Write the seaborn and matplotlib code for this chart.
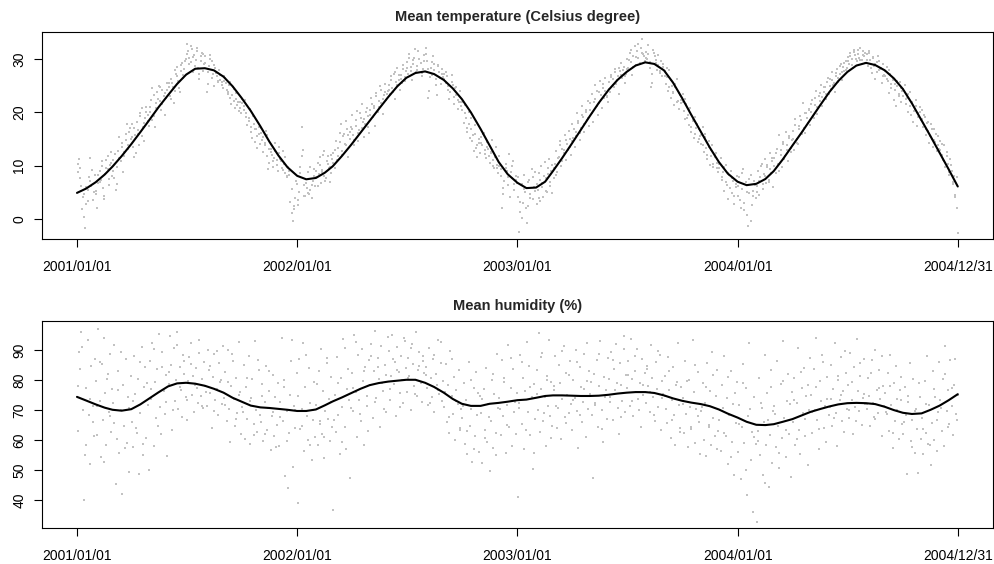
import datetime as dt
import calendar
import numpy as np
import pandas as pd
import matplotlib
matplotlib.use("Agg")
import matplotlib.pyplot as plt
import seaborn as sns

# ---------------- data ----------------
# observations, one row per month (readings spread evenly over the month)
temp_2001 = [
    [8.8, 11.2, 9.5, 6.1, 4.2, 0.4, -1.7, 2.8, 5.5, 7.9, 11.4, 6.2, 3.5, 5.1, 8.3],
    [4.6, 2.1, 6.8, 9.0, 7.4, 10.8, 5.9, 3.8, 8.5, 11.1, 9.3, 6.4, 10.2, 12.5, 8.1],
    [11.0, 7.6, 5.4, 9.8, 12.7, 15.3, 10.9, 13.6, 8.9, 11.8, 14.9, 17.8, 13.2, 16.4, 15.1],
    [17.9, 13.5, 11.6, 15.8, 18.2, 16.7, 13.9, 19.4, 20.8, 17.2, 14.6, 18.9, 21.0, 19.6, 17.5],
    [20.1, 22.4, 24.6, 19.3, 17.2, 21.8, 23.9, 25.0, 22.1, 20.5, 24.3, 23.1, 19.6, 22.8, 25.6],
    [24.8, 23.0, 26.2, 25.5, 21.7, 24.1, 27.3, 28.6, 25.9, 23.8, 27.7, 29.2, 26.4, 28.1, 30.0],
    [32.8, 31.5, 30.2, 29.4, 31.9, 27.6, 30.8, 29.9, 32.1, 28.4, 26.2, 30.6, 31.2, 27.8, 29.1],
    [30.5, 23.8, 25.4, 28.7, 30.1, 29.6, 27.2, 24.9, 28.3, 26.8, 25.7, 27.9, 26.1, 25.2, 24.6],
    [25.9, 26.4, 24.3, 23.5, 25.1, 22.7, 21.6, 24.8, 22.2, 20.9, 23.6, 21.4, 20.3, 22.0, 19.8],
    [21.8, 20.5, 22.3, 19.1, 17.6, 18.4, 20.7, 16.3, 15.2, 17.9, 14.5, 16.8, 13.4, 15.9, 14.1],
    [16.2, 14.8, 12.6, 13.9, 16.5, 11.8, 9.4, 10.6, 13.2, 12.0, 9.8, 11.5, 14.3, 10.2, 9.1],
    [13.6, 11.2, 9.5, 12.8, 10.4, 8.6, 7.9, 9.8, 8.3, 3.2, 1.1, -0.3, 2.4, 4.0, 6.5],
]
temp_2002 = [
    [3.6, 5.1, 9.7, 17.2, 13.0, 6.3, 4.4, 5.8, 8.9, 4.7, 5.5, 3.9, 7.2, 9.4, 6.1],
    [7.8, 10.5, 8.4, 11.6, 6.7, 9.2, 12.1, 8.0, 7.1, 10.8, 11.9, 9.5, 6.9, 8.6, 11.2],
    [12.3, 9.6, 14.7, 11.1, 13.4, 16.2, 17.9, 12.8, 15.5, 14.0, 18.4, 16.9, 11.7, 15.0, 17.2],
    [19.6, 15.8, 13.9, 17.4, 20.3, 14.6, 16.7, 19.0, 21.5, 18.2, 15.3, 17.8, 20.9, 19.4, 16.1],
    [20.4, 22.7, 19.1, 21.3, 17.5, 23.6, 20.0, 22.1, 24.9, 21.8, 19.7, 23.2, 25.4, 22.4, 24.0],
    [25.1, 23.4, 26.8, 24.5, 27.3, 22.6, 25.8, 28.4, 26.0, 24.2, 27.1, 25.5, 28.9, 26.6, 27.8],
    [29.4, 27.2, 31.0, 28.5, 26.1, 29.9, 30.3, 27.6, 28.8, 31.6, 30.1, 29.2, 26.8, 28.1, 30.7],
    [32.1, 29.6, 22.8, 24.1, 28.4, 27.0, 30.5, 29.1, 26.3, 23.2, 28.7, 27.5, 25.4, 28.2, 26.7],
    [27.3, 25.6, 26.9, 24.2, 22.5, 23.8, 27.0, 25.1, 21.6, 24.5, 23.3, 20.7, 22.0, 24.0, 21.2],
    [20.5, 18.1, 21.4, 19.0, 16.4, 17.8, 15.2, 18.9, 14.6, 12.8, 15.9, 13.4, 11.6, 14.2, 12.3],
    [15.4, 13.8, 16.2, 12.9, 11.4, 14.5, 13.1, 10.6, 12.4, 14.9, 11.0, 9.5, 13.6, 10.2, 8.7],
    [11.8, 9.3, 2.0, 4.6, 7.2, 10.4, 9.1, 6.3, 12.2, 8.8, 7.6, 10.9, 5.4, 8.1, 6.8],
]
temp_2003 = [
    [4.1, -2.4, 1.3, 6.6, 3.0, 8.2, 5.1, -0.8, 2.5, 7.4, 4.6, 9.3, 3.7, 6.0, 8.8],
    [2.9, 5.5, 8.6, 3.4, 9.9, 6.8, 4.2, 10.7, 7.7, 5.0, 8.4, 11.3, 6.1, 9.0, 4.8],
    [7.6, 10.4, 12.8, 8.9, 11.7, 14.6, 10.0, 13.2, 12.3, 15.7, 11.1, 14.0, 16.6, 13.5, 12.0],
    [17.8, 15.2, 13.6, 16.4, 19.9, 18.3, 14.8, 17.1, 21.3, 19.2, 16.3, 20.4, 18.6, 22.1, 17.4],
    [20.5, 23.4, 18.2, 22.0, 25.1, 21.3, 19.6, 23.8, 25.9, 20.8, 24.5, 22.7, 26.4, 23.1, 21.9],
    [25.8, 23.9, 27.0, 26.2, 24.7, 28.1, 25.3, 26.9, 23.4, 27.7, 29.3, 26.4, 28.6, 25.6, 27.3],
    [30.1, 28.4, 31.2, 29.5, 27.0, 30.6, 32.4, 28.9, 31.5, 30.2, 29.0, 32.0, 33.8, 30.9, 29.7],
    [31.4, 30.0, 32.6, 28.3, 24.8, 25.6, 31.8, 30.5, 29.2, 28.0, 30.8, 27.4, 29.6, 26.9, 28.5],
    [27.8, 25.4, 26.6, 24.1, 28.0, 22.7, 25.0, 23.6, 21.4, 24.7, 26.2, 22.1, 20.6, 23.3, 21.8],
    [23.4, 20.2, 18.8, 21.6, 19.5, 17.6, 20.9, 16.4, 18.3, 15.2, 19.1, 17.0, 14.5, 16.8, 15.6],
    [14.1, 17.2, 12.6, 15.3, 13.4, 11.2, 14.7, 10.1, 12.9, 13.8, 9.8, 11.6, 12.4, 10.6, 8.9],
    [9.6, 11.4, 7.9, 8.8, 5.2, 10.1, 6.4, 3.7, 8.3, 9.1, 4.9, 7.2, 2.8, 6.0, 8.1],
]
temp_2004 = [
    [4.3, 7.8, 2.1, 5.6, 9.4, 3.0, 6.9, 0.8, -1.4, 4.8, 8.2, 2.6, 5.3, 7.1, 3.9],
    [6.2, 9.0, 4.5, 7.8, 10.3, 5.6, 8.4, 11.2, 6.8, 9.7, 7.3, 12.4, 8.6, 10.8, 6.0],
    [11.5, 8.6, 13.2, 10.4, 15.8, 12.0, 9.7, 14.1, 11.3, 16.4, 13.0, 10.9, 15.2, 12.6, 14.8],
    [16.5, 12.9, 18.7, 15.1, 14.0, 17.4, 19.3, 15.9, 21.8, 17.0, 16.2, 19.8, 18.1, 20.4, 17.6],
    [20.0, 22.3, 18.9, 21.4, 24.1, 19.7, 23.0, 22.1, 25.2, 21.2, 23.8, 24.8, 22.6, 25.8, 23.4],
    [26.3, 24.4, 27.5, 25.2, 23.9, 26.8, 28.1, 25.7, 27.2, 29.0, 26.0, 28.6, 27.8, 29.6, 28.3],
    [30.4, 29.1, 31.2, 30.0, 28.4, 31.7, 30.8, 29.6, 31.0, 30.3, 32.0, 29.8, 31.5, 30.6, 29.3],
    [30.9, 28.7, 31.2, 29.9, 27.4, 30.2, 28.8, 26.3, 29.5, 30.6, 27.9, 28.2, 25.6, 29.0, 27.1],
    [26.8, 28.5, 25.9, 23.7, 27.2, 24.6, 26.0, 22.4, 25.3, 21.3, 24.9, 23.1, 25.7, 22.0, 24.0],
    [23.0, 25.1, 21.5, 22.7, 20.1, 23.9, 19.6, 21.8, 18.2, 20.7, 22.3, 17.5, 19.9, 21.0, 18.6],
    [20.4, 17.3, 19.1, 15.7, 18.0, 16.6, 14.2, 17.8, 15.0, 13.6, 16.9, 14.4, 12.8, 15.6, 13.1],
    [14.6, 12.1, 11.0, 13.8, 9.7, 12.6, 10.4, 8.2, 11.3, 9.0, 6.5, 8.0, 4.1, 2.0, -2.6],
]
# second set of temperature readings (interleaved within each month)
temp2_2001 = [
    [10.4, 7.6, 1.9, 4.6, 6.0, 3.3, 7.1, 9.2, 5.0],
    [5.2, 8.3, 7.0, 10.0, 4.4, 9.6, 11.8, 7.5, 10.6],
    [9.1, 12.2, 6.5, 11.4, 14.2, 12.5, 15.9, 13.8, 17.0],
    [15.4, 17.1, 12.4, 16.0, 19.8, 15.6, 18.0, 20.1, 18.4],
    [21.0, 18.5, 23.3, 20.9, 22.6, 24.7, 21.5, 23.7, 24.2],
    [25.6, 22.5, 24.7, 27.9, 26.9, 24.5, 28.9, 27.0, 29.6],
    [31.0, 29.0, 32.4, 30.4, 28.8, 31.6, 27.3, 29.7, 30.9],
    [29.2, 27.6, 30.8, 26.4, 28.9, 27.4, 25.9, 27.1, 25.8],
    [26.9, 25.5, 23.9, 25.7, 23.2, 24.4, 22.5, 21.9, 20.8],
    [22.6, 21.2, 19.8, 18.9, 17.2, 19.3, 16.9, 15.6, 17.3],
    [17.0, 15.4, 14.2, 15.8, 13.1, 12.5, 10.9, 12.8, 11.1],
    [12.3, 10.8, 9.2, 11.6, 8.0, 9.1, 5.6, 1.9, 7.2],
]
temp2_2002 = [
    [2.6, 8.6, 11.9, 4.3, 6.7, 4.9, 9.8, 6.4, 8.0],
    [9.1, 6.2, 10.1, 8.9, 12.8, 7.6, 10.3, 9.8, 12.0],
    [10.6, 13.0, 11.9, 14.4, 12.1, 16.0, 13.9, 15.8, 16.3],
    [16.8, 14.9, 18.6, 16.2, 19.8, 17.0, 18.7, 20.0, 17.3],
    [19.6, 21.6, 20.8, 23.0, 21.1, 24.3, 22.6, 23.9, 23.5],
    [24.2, 26.1, 23.8, 27.6, 25.2, 27.0, 26.3, 28.1, 25.9],
    [28.3, 30.2, 27.8, 29.1, 31.9, 28.0, 30.0, 27.4, 29.6],
    [30.9, 28.1, 26.6, 29.4, 27.9, 25.1, 28.9, 26.4, 27.3],
    [26.2, 27.6, 25.0, 23.9, 25.7, 22.9, 24.7, 22.4, 21.9],
    [21.9, 19.9, 17.1, 20.0, 16.9, 15.7, 17.6, 13.9, 15.0],
    [14.3, 16.0, 12.2, 13.5, 11.8, 12.6, 9.9, 11.7, 9.6],
    [10.0, 8.1, 5.9, 9.6, 7.8, 4.1, 9.9, 6.6, 7.4],
]
temp2_2003 = [
    [7.9, 3.2, 0.2, 5.6, 2.0, 6.9, 4.0, 7.8, 5.3],
    [6.5, 3.9, 7.4, 6.0, 8.0, 5.3, 9.5, 7.0, 10.1],
    [9.6, 8.2, 11.5, 13.9, 10.8, 12.9, 14.8, 13.0, 15.0],
    [14.6, 16.9, 15.6, 18.0, 16.1, 19.5, 17.9, 20.0, 19.0],
    [21.8, 19.9, 22.6, 24.0, 21.7, 23.3, 25.3, 24.0, 22.9],
    [24.4, 26.6, 25.1, 27.5, 26.0, 28.4, 27.0, 28.0, 26.8],
    [28.2, 29.8, 31.8, 28.6, 30.4, 32.8, 29.3, 31.1, 30.5],
    [30.3, 31.0, 29.4, 27.3, 31.2, 29.9, 28.9, 27.7, 29.0],
    [26.9, 28.4, 24.8, 26.0, 23.9, 25.3, 21.9, 23.7, 22.4],
    [21.9, 22.5, 19.0, 20.4, 17.3, 18.6, 16.0, 17.8, 15.1],
    [15.8, 13.9, 16.0, 12.0, 13.6, 11.9, 10.4, 12.1, 9.5],
    [10.3, 7.4, 9.8, 6.9, 8.6, 5.8, 7.7, 4.4, 6.6],
]
temp2_2004 = [
    [6.1, 3.5, 8.6, 1.6, 5.0, 7.5, -0.4, 4.4, 6.4],
    [5.1, 7.2, 9.9, 6.6, 8.0, 10.1, 7.0, 9.3, 11.5],
    [10.0, 12.3, 9.1, 12.9, 14.5, 11.9, 13.8, 15.5, 13.4],
    [15.0, 17.7, 14.3, 16.9, 18.6, 16.5, 19.9, 18.9, 20.6],
    [21.5, 19.4, 22.8, 21.0, 23.6, 22.9, 24.7, 23.5, 26.4],
    [24.9, 26.0, 25.5, 27.4, 26.5, 28.8, 27.5, 29.2, 28.0],
    [29.6, 30.6, 28.9, 31.4, 30.1, 31.8, 29.9, 30.8, 31.1],
    [29.8, 31.6, 28.3, 30.4, 29.1, 27.6, 29.7, 28.4, 26.8],
    [27.7, 26.3, 28.0, 25.4, 26.5, 24.2, 25.9, 23.5, 24.6],
    [24.4, 22.6, 23.5, 21.2, 22.0, 20.3, 21.3, 19.2, 20.0],
    [18.7, 19.6, 16.9, 18.2, 15.5, 16.9, 14.8, 15.9, 13.9],
    [13.0, 14.0, 10.9, 11.9, 8.9, 10.2, 7.0, 4.5, 7.8],
]

hum_2001 = [
    [63.0, 89.5, 83.7, 96.2, 70.1, 40.0, 55.2, 77.4, 93.6, 68.3, 52.1, 84.9, 71.6, 61.4, 87.0],
    [79.8, 61.9, 97.0, 73.1, 54.3, 85.6, 66.8, 94.1, 75.9, 58.6, 82.2, 69.4, 88.7, 62.7, 77.0],
    [72.5, 91.8, 45.3, 60.4, 83.1, 55.7, 70.0, 42.1, 78.6, 64.9, 87.2, 59.2, 74.4, 49.6, 81.5],
    [66.1, 57.9, 88.0, 75.3, 62.4, 80.6, 48.9, 69.2, 91.1, 55.0, 77.8, 84.3, 60.7, 71.9, 50.2],
    [86.5, 73.7, 92.4, 58.1, 79.3, 67.5, 83.9, 95.5, 71.0, 62.2, 89.6, 76.4, 68.7, 81.8, 54.8],
    [78.9, 94.7, 85.2, 63.6, 90.9, 73.0, 80.1, 96.0, 70.4, 84.6, 76.9, 67.8, 88.3, 82.0, 74.6],
    [66.9, 79.7, 87.8, 92.6, 75.1, 81.3, 69.5, 84.0, 77.6, 72.3, 89.1, 74.8, 80.5, 70.8, 86.2],
    [78.2, 71.4, 90.2, 83.4, 75.7, 64.2, 81.0, 88.9, 73.4, 77.1, 68.6, 85.8, 79.4, 72.0, 91.3],
    [74.1, 82.7, 66.3, 90.0, 70.6, 59.5, 78.0, 86.4, 73.8, 64.7, 80.9, 69.0, 92.8, 76.2, 62.1],
    [71.2, 85.1, 60.3, 77.7, 67.0, 88.2, 58.8, 74.0, 80.4, 65.6, 93.0, 70.2, 62.8, 83.6, 68.4],
    [66.0, 78.8, 59.7, 72.7, 84.8, 63.3, 70.9, 76.5, 56.9, 68.1, 81.7, 61.5, 74.3, 65.2, 79.1],
    [58.0, 72.8, 94.2, 66.5, 80.0, 48.1, 69.7, 44.2, 62.5, 75.2, 93.3, 51.1, 71.3, 64.0, 82.4],
]
hum_2002 = [
    [39.2, 87.1, 63.8, 70.5, 92.5, 56.4, 77.9, 68.2, 60.1, 84.0, 72.4, 53.6, 66.9, 79.5, 61.0],
    [71.8, 58.3, 83.2, 65.4, 90.6, 62.0, 76.3, 54.1, 69.9, 85.7, 67.2, 73.9, 59.8, 81.1, 64.6],
    [36.9, 75.0, 62.9, 87.9, 68.6, 55.5, 80.8, 71.1, 93.9, 64.3, 57.2, 77.2, 83.8, 47.4, 70.7],
    [82.5, 69.8, 95.1, 76.1, 61.2, 88.5, 73.6, 66.3, 90.3, 79.9, 58.5, 84.4, 71.4, 63.1, 86.7],
    [78.4, 92.0, 67.6, 83.0, 96.4, 74.2, 87.4, 80.3, 64.5, 91.5, 76.6, 70.3, 85.0, 81.9, 94.3],
    [89.8, 73.3, 81.4, 95.0, 78.7, 86.0, 68.0, 91.0, 82.8, 75.8, 88.1, 80.2, 72.6, 93.2, 84.2],
    [76.0, 87.6, 81.6, 70.0, 92.2, 85.3, 78.1, 96.1, 74.7, 83.5, 89.4, 79.0, 72.8, 86.6, 82.3],
    [84.6, 77.3, 71.7, 90.7, 80.7, 74.5, 87.0, 69.3, 82.1, 78.3, 93.6, 75.6, 85.9, 73.2, 79.8],
    [71.0, 85.5, 66.2, 78.5, 62.6, 89.9, 74.9, 68.9, 81.2, 60.0, 76.8, 72.1, 83.3, 64.1, 70.6],
    [67.4, 79.2, 58.9, 73.5, 55.6, 86.1, 64.8, 70.4, 52.9, 77.5, 61.6, 82.9, 68.5, 56.1, 74.7],
    [69.1, 52.6, 77.0, 63.5, 84.1, 59.4, 72.2, 49.8, 66.6, 80.2, 57.5, 75.4, 62.3, 88.8, 70.9],
    [74.0, 61.8, 86.9, 68.0, 79.6, 55.8, 71.7, 91.7, 64.4, 77.3, 58.2, 83.7, 69.6, 62.0, 75.8],
]
hum_2003 = [
    [41.0, 72.6, 88.4, 65.3, 80.9, 57.0, 76.4, 92.9, 69.5, 84.7, 61.7, 74.3, 50.4, 78.8, 67.1],
    [83.6, 70.1, 95.7, 62.8, 77.1, 89.0, 66.4, 74.5, 58.0, 81.4, 71.5, 93.4, 68.2, 79.3, 64.9],
    [76.7, 88.2, 71.3, 64.0, 85.2, 79.1, 60.5, 73.9, 91.4, 67.7, 82.6, 75.0, 69.0, 86.3, 72.0],
    [63.4, 80.0, 74.2, 90.1, 69.7, 57.6, 84.5, 77.8, 66.1, 72.9, 88.7, 61.1, 79.9, 70.3, 83.1],
    [75.5, 68.4, 47.3, 82.0, 71.8, 86.8, 64.6, 78.2, 93.1, 70.0, 59.3, 81.0, 74.4, 67.0, 87.5],
    [80.3, 72.7, 89.3, 66.7, 83.9, 76.9, 92.1, 70.8, 62.1, 85.8, 78.5, 73.1, 94.9, 69.3, 81.7],
    [77.4, 86.4, 71.6, 93.8, 80.6, 68.1, 83.0, 76.2, 90.5, 73.8, 79.0, 64.3, 87.1, 75.1, 82.5],
    [72.3, 84.9, 78.0, 69.6, 91.9, 80.8, 74.6, 66.4, 86.0, 77.2, 71.1, 88.6, 63.5, 79.7, 75.3],
    [81.3, 70.5, 65.9, 87.7, 76.7, 60.8, 73.3, 84.4, 68.3, 58.4, 79.4, 92.3, 71.9, 64.2, 77.9],
    [74.1, 62.4, 86.5, 68.8, 57.8, 80.1, 71.0, 63.9, 93.5, 76.1, 59.1, 70.6, 82.8, 66.0, 55.3],
    [69.8, 79.0, 60.2, 72.5, 54.7, 85.9, 65.1, 76.3, 58.6, 89.6, 67.3, 61.4, 74.9, 83.4, 63.2],
    [66.7, 56.3, 78.6, 70.7, 88.0, 61.3, 74.1, 52.0, 68.6, 83.2, 59.6, 72.0, 48.5, 65.8, 79.4],
]
hum_2004 = [
    [56.2, 71.9, 47.0, 64.5, 85.6, 59.0, 77.3, 41.8, 68.1, 92.6, 53.4, 62.9, 36.2, 74.6, 58.8],
    [32.9, 63.2, 80.8, 55.1, 70.8, 48.3, 66.0, 88.6, 58.6, 75.7, 44.5, 61.9, 83.5, 52.6, 69.7],
    [71.4, 57.7, 86.3, 64.7, 50.8, 78.9, 60.9, 93.0, 67.6, 54.4, 73.0, 82.1, 62.0, 47.9, 76.0],
    [66.2, 80.7, 58.3, 72.4, 90.8, 63.6, 55.3, 77.6, 69.1, 84.2, 61.3, 74.8, 51.7, 70.0, 87.3],
    [75.2, 62.6, 83.7, 70.1, 94.2, 66.8, 57.1, 79.8, 73.0, 88.4, 64.2, 71.5, 59.5, 81.2, 68.5],
    [71.1, 85.0, 64.8, 77.0, 92.5, 69.0, 58.1, 80.0, 73.6, 87.8, 66.4, 76.6, 62.7, 82.6, 70.3],
    [78.6, 67.3, 89.2, 73.3, 62.2, 84.6, 71.2, 93.7, 76.4, 69.7, 81.5, 65.0, 74.0, 87.0, 72.2],
    [70.5, 80.9, 74.7, 64.9, 86.9, 72.6, 67.9, 90.0, 76.8, 69.2, 83.3, 73.7, 61.5, 78.1, 71.6],
    [75.9, 68.7, 82.3, 63.0, 88.3, 71.8, 57.4, 79.2, 66.5, 84.9, 70.0, 60.6, 76.7, 73.4, 65.4],
    [62.1, 77.7, 68.3, 48.7, 72.9, 85.8, 59.8, 66.9, 80.3, 55.9, 70.6, 63.7, 49.0, 74.3, 60.4],
    [67.6, 55.5, 79.8, 62.6, 88.0, 58.8, 71.7, 51.9, 65.9, 83.0, 60.0, 74.4, 56.6, 69.4, 86.0],
    [73.6, 63.0, 80.5, 58.0, 91.6, 69.8, 76.9, 65.5, 86.8, 71.3, 61.8, 78.4, 87.0, 66.7, 75.1],
]
# second set of humidity readings
hum2_2001 = [
    [78.0, 91.2, 58.5, 73.9, 66.0], [71.5, 86.0, 52.8, 80.6, 68.0],
    [65.8, 76.9, 89.4, 57.3, 70.9], [73.2, 64.0, 86.1, 58.9, 79.0],
    [77.0, 90.5, 64.9, 84.4, 72.8], [82.9, 70.2, 91.9, 77.7, 86.6],
    [73.5, 85.5, 78.4, 93.5, 71.6], [76.0, 84.7, 69.9, 89.8, 80.1],
    [71.7, 79.5, 88.8, 67.2, 75.0], [69.5, 80.8, 73.1, 61.9, 86.9],
    [74.8, 62.0, 83.0, 69.3, 57.8], [67.9, 77.8, 59.9, 86.4, 70.0],
]
hum2_2002 = [
    [74.9, 64.7, 88.3, 58.4, 70.0], [78.8, 66.3, 61.2, 87.3, 72.7],
    [66.8, 79.0, 59.6, 90.8, 73.4], [77.5, 92.8, 68.7, 83.1, 74.8],
    [88.1, 72.9, 84.4, 79.1, 69.5], [77.2, 87.2, 83.6, 71.0, 94.1],
    [80.9, 90.8, 75.4, 84.9, 88.2], [81.8, 72.4, 88.4, 76.7, 92.9],
    [76.1, 67.9, 87.1, 73.0, 63.3], [71.3, 63.1, 80.0, 57.0, 75.9],
    [73.8, 60.9, 67.8, 82.0, 55.1], [70.4, 80.7, 65.2, 87.6, 72.9],
]
hum2_2003 = [
    [70.8, 86.2, 63.4, 77.9, 55.9], [75.4, 87.8, 69.1, 80.2, 60.7],
    [78.1, 70.9, 89.8, 65.7, 81.8], [73.6, 86.1, 68.5, 77.1, 92.4],
    [79.6, 72.5, 88.9, 63.7, 76.9], [74.3, 86.9, 79.1, 67.9, 90.6],
    [81.9, 73.2, 88.0, 70.1, 78.4], [83.7, 76.0, 68.5, 89.7, 74.1],
    [74.9, 83.0, 66.8, 78.6, 62.9], [72.2, 79.8, 64.6, 85.0, 68.1],
    [71.0, 77.7, 64.4, 81.8, 57.1], [70.0, 62.5, 81.0, 54.6, 75.7],
]
hum2_2004 = [
    [65.6, 79.0, 50.1, 70.3, 61.2], [59.8, 72.6, 45.9, 66.9, 77.9],
    [68.8, 55.9, 79.9, 63.5, 72.1], [73.4, 60.4, 82.8, 67.2, 78.6],
    [69.4, 77.9, 63.9, 86.1, 73.9], [73.8, 67.6, 81.3, 75.0, 89.9],
    [70.1, 79.4, 66.4, 85.8, 75.3], [72.0, 82.4, 67.0, 77.4, 88.1],
    [69.6, 78.2, 62.4, 73.9, 81.0], [66.0, 74.8, 57.9, 69.9, 79.0],
    [63.7, 72.0, 58.3, 77.0, 66.9], [70.9, 82.2, 64.3, 77.5, 68.9],
]

# smoothed curves, sampled on the 1st and 16th of each month (+ 2004/12/31)
temp_smooth = [
    4.9, 5.7, 6.9, 8.35, 9.85, 11.8, 14.05, 16.3, 18.6, 20.95, 23.25, 25.35,
    27.1, 28.2, 28.3, 27.9, 26.7, 24.9, 22.7, 20.3, 17.4, 14.5, 11.9, 9.7,
    8.1, 7.45, 7.7, 8.7, 9.9, 11.8, 14.0, 16.2, 18.4, 20.6, 22.9, 24.9,
    26.5, 27.4, 27.7, 27.2, 26.1, 24.5, 22.5, 20.0, 16.9, 13.8, 10.7, 8.4,
    6.8, 5.8, 5.9, 7.0, 9.0, 11.4, 14.1, 16.7, 19.3, 21.8, 24.2, 26.1,
    27.6, 28.8, 29.4, 29.1, 27.9, 25.6, 22.7, 19.6, 16.4, 13.4, 10.7, 8.5,
    7.0, 6.35, 6.6, 7.5, 9.0, 11.2, 13.8, 16.2, 18.7, 21.2, 23.8, 25.9,
    27.6, 28.8, 29.3, 28.9, 27.9, 26.4, 24.4, 21.7, 18.5, 15.5, 12.4, 9.3,
    6.1,
]
hum_smooth = [
    74.5, 73.3, 72.0, 70.9, 70.2, 69.9, 70.4, 72.0, 74.0, 76.0, 78.0, 79.0,
    79.2, 78.9, 78.2, 77.2, 75.9, 74.2, 72.9, 71.6, 71.0, 70.8, 70.5, 70.2,
    69.8, 69.8, 70.3, 71.7, 73.0, 74.3, 75.8, 77.2, 78.4, 79.1, 79.6, 79.9,
    80.2, 80.2, 79.2, 77.8, 75.9, 73.8, 72.2, 71.5, 71.5, 72.2, 72.5, 72.9,
    73.4, 73.6, 74.2, 74.8, 75.0, 75.0, 74.9, 74.8, 74.8, 74.9, 75.2, 75.6,
    75.9, 76.1, 76.1, 75.8, 75.0, 74.0, 73.2, 72.6, 72.1, 71.4, 70.3, 68.9,
    67.6, 66.2, 65.2, 65.1, 65.4, 66.2, 67.1, 68.3, 69.5, 70.4, 71.3, 72.0,
    72.4, 72.5, 72.4, 72.1, 71.2, 70.1, 69.2, 68.8, 69.0, 70.2, 71.6, 73.4,
    75.4,
]

years = [2001, 2002, 2003, 2004]
tick_labels = ["2001/01/01", "2002/01/01", "2003/01/01", "2004/01/01", "2004/12/31"]
titles = ["Mean temperature (Celsius degree)", "Mean humidity (%)"]

# ---------------- build tables ----------------
origin = dt.date(2001, 1, 1)


def obs_frame(rows_by_year, shift=0.5):
    days, vals = [], []
    for y, rows in zip(years, rows_by_year):
        for m, row in enumerate(rows, start=1):
            start = (dt.date(y, m, 1) - origin).days
            n = calendar.monthrange(y, m)[1]
            k = len(row)
            for i, v in enumerate(row):
                days.append(start + (i + shift) * n / k)
                vals.append(v)
    return pd.DataFrame({"day": days, "value": vals})


knot_dates = [dt.date(y, m, d) for y in years for m in range(1, 13) for d in (1, 16)]
knot_dates.append(dt.date(2004, 12, 31))
knot_days = [(d - origin).days for d in knot_dates]

temp_obs = pd.concat([
    obs_frame([temp_2001, temp_2002, temp_2003, temp_2004], 0.5),
    obs_frame([temp2_2001, temp2_2002, temp2_2003, temp2_2004], 0.3),
], ignore_index=True)
hum_obs = pd.concat([
    obs_frame([hum_2001, hum_2002, hum_2003, hum_2004], 0.5),
    obs_frame([hum2_2001, hum2_2002, hum2_2003, hum2_2004], 0.35),
], ignore_index=True)
temp_fit = pd.DataFrame({"day": knot_days, "value": temp_smooth})
hum_fit = pd.DataFrame({"day": knot_days, "value": hum_smooth})

tick_days = [(dt.date(2001 + i, 1, 1) - origin).days for i in range(4)]
tick_days.append((dt.date(2004, 12, 31) - origin).days)

# ---------------- plot ----------------
sns.set_style("ticks")
plt.rcParams["font.family"] = ["Liberation Sans", "DejaVu Sans"]

fig = plt.figure(figsize=(9.94, 5.64), dpi=100)
ax1 = fig.add_axes([0.042, 0.5762, 0.957, 0.3671])
ax2 = fig.add_axes([0.042, 0.0633, 0.957, 0.3676])

panels = [
    (ax1, temp_obs, temp_fit, (-3.76, 35.1), [0, 10, 20, 30]),
    (ax2, hum_obs, hum_fit, (30.7, 99.8), [40, 50, 60, 70, 80, 90]),
]

for (ax, obs, fit, ylim, yticks), title in zip(panels, titles):
    sns.scatterplot(data=obs, x="day", y="value", ax=ax, color="#C2C2C2",
                    marker="s", s=3.4, linewidth=0, legend=False)
    sns.lineplot(data=fit, x="day", y="value", ax=ax, color="black",
                 linewidth=1.5, estimator=None, sort=False)
    ax.set_xlim(-58.4, 1518.4)
    ax.set_ylim(*ylim)
    ax.set_xticks(tick_days)
    ax.set_xticklabels(tick_labels, fontsize=10)
    ax.set_yticks(yticks)
    ax.set_yticklabels([str(t) for t in yticks], fontsize=10, rotation=90,
                       va="center")
    ax.tick_params(axis="x", length=6, width=0.8, pad=9, colors="black")
    ax.tick_params(axis="y", length=6, width=0.8, pad=5, colors="black")
    ax.set_xlabel("")
    ax.set_ylabel("")
    ax.set_title(title, fontsize=10.5, fontweight="bold", pad=8)
    for sp in ax.spines.values():
        sp.set_visible(True)
        sp.set_linewidth(0.8)
        sp.set_color("black")

fig.savefig("out.png", dpi=100)
